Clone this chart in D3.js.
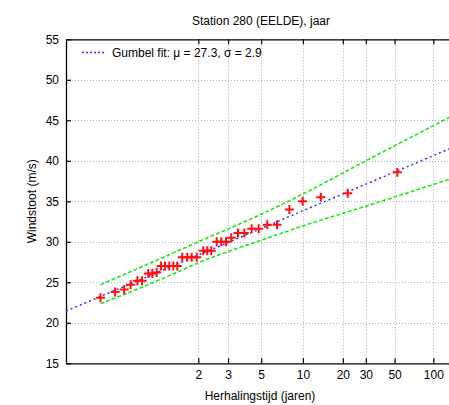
<!DOCTYPE html>
<html>
<head>
<meta charset="utf-8">
<script src="https://cdn.jsdelivr.net/npm/d3@7/dist/d3.min.js"></script>
<style>
  html, body { margin: 0; padding: 0; background: #fff; }
  svg { display: block; font-family: "Liberation Sans", Arial, Helvetica, sans-serif; }
</style>
</head>
<body>
<svg id="chart" width="449" height="405"></svg>
<script>
// Annual maximum wind gusts, station 280 (Eelde), with plotting-position return periods
const returnPeriods = [1.018, 1.047, 1.077, 1.106, 1.143, 1.174, 1.222, 1.257, 1.300, 1.347,
                       1.395, 1.451, 1.509, 1.571, 1.657, 1.753, 1.845, 1.961, 2.131, 2.245,
                       2.369, 2.551, 2.721, 2.911, 3.146, 3.478, 3.830, 4.297, 4.803, 5.516,
                       6.470, 7.95, 9.97, 13.6, 21.8, 52.5];
const windGusts = [23.1, 23.8, 24.1, 24.7, 25.2, 25.2, 26.1, 26.1, 26.2, 27.0,
                   27.0, 27.0, 27.0, 27.0, 28.1, 28.1, 28.1, 28.1, 28.9, 28.9,
                   28.9, 30.0, 30.0, 30.0, 30.5, 31.1, 31.1, 31.6, 31.6, 32.1,
                   32.1, 34.0, 35.0, 35.5, 36.0, 38.6];

// Gumbel fit parameters
const gumbelMu = 27.3;
const gumbelSigma = 2.9;

// Confidence band around the fit
const bandPeriods = [1.018, 1.5, 2, 5, 10, 30, 135];
const bandUpper = [24.7, 28.6, 30.0, 33.4, 35.9, 40.0, 45.4];
const bandLower = [22.35, 26.0, 27.4, 30.2, 31.96, 34.4, 37.75];

// Axis ticks
const xTickPeriods = [2, 3, 5, 10, 20, 30, 50, 100];
const yTicks = [15, 20, 25, 30, 35, 40, 45, 50, 55];

// Gumbel reduced variate for a return period T
const reducedVariate = T => -Math.log(-Math.log(1 - 1 / T));

const svg = d3.select("#chart");
const plotLeft = 66, plotTop = 39.3, plotBottom = 363.3, plotRight = 455.5;

const x = d3.scaleLinear().domain([-2.017, 5]).range([plotLeft, plotRight]);
const y = d3.scaleLinear().domain([15, 55]).range([plotBottom, plotTop]);

svg.append("defs").append("clipPath").attr("id", "plot-clip")
  .append("rect").attr("x", plotLeft).attr("y", plotTop)
  .attr("width", plotRight - plotLeft).attr("height", plotBottom - plotTop);

// Grid
const grid = svg.append("g").attr("stroke", "#b0b0b0").attr("stroke-width", 1).attr("stroke-dasharray", "1,2");
grid.selectAll(".gy").data(yTicks.filter(d => d > 15 && d < 55)).join("line")
  .attr("x1", plotLeft).attr("x2", plotRight)
  .attr("y1", d => Math.round(y(d)) + 0.5).attr("y2", d => Math.round(y(d)) + 0.5);
grid.selectAll(".gx").data(xTickPeriods).join("line")
  .attr("y1", plotTop).attr("y2", plotBottom)
  .attr("x1", d => Math.round(x(reducedVariate(d))) + 0.5)
  .attr("x2", d => Math.round(x(reducedVariate(d))) + 0.5);

// Axes
const xAxis = d3.axisBottom(x)
  .tickValues(xTickPeriods.map(reducedVariate))
  .tickFormat((d, i) => xTickPeriods[i])
  .tickSizeInner(-5).tickSizeOuter(0).tickPadding(7);
const gx = svg.append("g").attr("transform", `translate(0,${plotBottom})`).call(xAxis);

const xAxisTop = d3.axisTop(x)
  .tickValues(xTickPeriods.map(reducedVariate))
  .tickFormat("")
  .tickSizeInner(-5).tickSizeOuter(0);
const gxt = svg.append("g").attr("transform", `translate(0,${plotTop})`).call(xAxisTop);

const yAxis = d3.axisLeft(y).tickValues(yTicks).tickFormat(d3.format("d"))
  .tickSizeInner(-5).tickSizeOuter(0).tickPadding(7);
const gy = svg.append("g").attr("transform", `translate(${plotLeft},0)`).call(yAxis);

[gx, gxt, gy].forEach(g => {
  g.selectAll("path.domain").attr("stroke", "#000").attr("stroke-width", 1.3);
  g.selectAll(".tick line").attr("stroke", "#000").attr("stroke-width", 1.2);
  g.selectAll("text").attr("font-size", 12).attr("fill", "#000")
    .attr("font-family", "'Liberation Sans', Arial, sans-serif");
});

// Data layer
const plot = svg.append("g").attr("clip-path", "url(#plot-clip)");

const bandLine = d3.line().curve(d3.curveMonotoneX)
  .x(d => x(reducedVariate(d[0]))).y(d => y(d[1]));

plot.append("path")
  .attr("d", bandLine(bandPeriods.map((t, i) => [t, bandUpper[i]])))
  .attr("fill", "none").attr("stroke", "#22e622").attr("stroke-width", 1.6)
  .attr("stroke-dasharray", "4,2");
plot.append("path")
  .attr("d", bandLine(bandPeriods.map((t, i) => [t, bandLower[i]])))
  .attr("fill", "none").attr("stroke", "#22e622").attr("stroke-width", 1.6)
  .attr("stroke-dasharray", "4,2");

// Gumbel fit line across the full axis
plot.append("path")
  .attr("d", d3.line().x(d => x(d)).y(d => y(gumbelMu + gumbelSigma * d))(x.domain()))
  .attr("fill", "none").attr("stroke", "#3030ff").attr("stroke-width", 1.5)
  .attr("stroke-dasharray", "2,3");

// Observations as red crosses
const cross = plot.append("g").attr("stroke", "#ff1010").attr("stroke-width", 2);
returnPeriods.forEach((t, i) => {
  const px = x(reducedVariate(t)), py = y(windGusts[i]);
  cross.append("line").attr("x1", px - 4.5).attr("x2", px + 4.5).attr("y1", py).attr("y2", py);
  cross.append("line").attr("x1", px).attr("x2", px).attr("y1", py - 4.5).attr("y2", py + 4.5);
});

// Legend
svg.append("line").attr("x1", 82).attr("x2", 104).attr("y1", 52.5).attr("y2", 52.5)
  .attr("stroke", "#3030ff").attr("stroke-width", 1.5).attr("stroke-dasharray", "2,2");
svg.append("text").attr("x", 112).attr("y", 56.5).attr("font-size", 12)
  .text("Gumbel fit: \u03BC = 27.3, \u03C3 = 2.9");

// Titles
svg.append("text").attr("x", 261).attr("y", 25).attr("text-anchor", "middle")
  .attr("font-size", 12).text("Station 280 (EELDE), jaar");
svg.append("text").attr("x", 260).attr("y", 400).attr("text-anchor", "middle")
  .attr("font-size", 12).text("Herhalingstijd (jaren)");
svg.append("text").attr("transform", `translate(36,${(plotTop + plotBottom) / 2}) rotate(-90)`)
  .attr("text-anchor", "middle").attr("font-size", 12).text("Windstoot (m/s)");
</script>
</body>
</html>
